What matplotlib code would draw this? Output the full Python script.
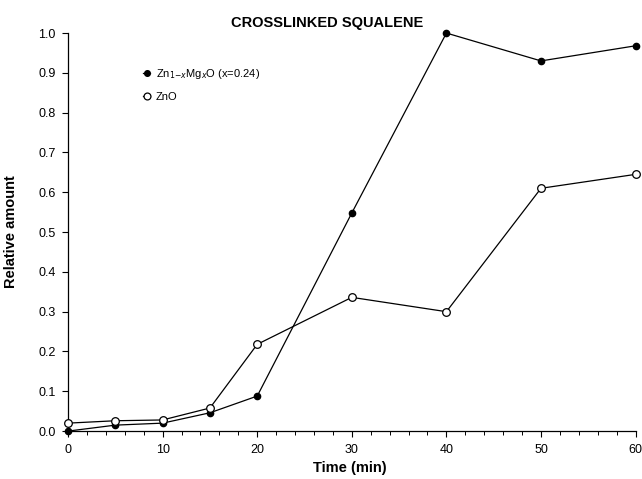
import numpy as np
import matplotlib
matplotlib.use("Agg")
import matplotlib.pyplot as plt

plt.rcParams["font.family"] = ["Liberation Sans", "DejaVu Sans"]

# Tiempo de reacción (min) y cantidad relativa de escualeno entrecruzado
tiempo = [0, 5, 10, 15, 20, 30, 40, 50, 60]
znmgo = [0.0, 0.015, 0.02, 0.046, 0.088, 0.548, 1.0, 0.93, 0.968]
zno = [0.02, 0.026, 0.028, 0.058, 0.218, 0.336, 0.30, 0.61, 0.645]

fig = plt.figure(figsize=(6.42, 4.79), dpi=100)
ax = fig.add_axes([0.106, 0.1, 0.884, 0.831])

ax.plot(tiempo, znmgo, color="black", lw=0.9, marker="o", ms=4.5,
        mfc="black", mec="black", label="Zn$_{1\\mathrm{-}x}$Mg$_x$O (x=0.24)", clip_on=False, zorder=3)
ax.plot(tiempo, zno, color="black", lw=0.9, marker="o", ms=5.5,
        mfc="white", mec="black", mew=0.9, label="ZnO", clip_on=False, zorder=3)

ax.set_xlim(0, 60)
ax.set_ylim(0, 1.0)
ax.set_xticks(np.arange(0, 61, 10))
ax.set_xticks(np.arange(0, 61, 2), minor=True)
ax.set_yticks(np.arange(0, 1.01, 0.1))
ax.set_yticklabels([f"{v:.1f}" for v in np.arange(0, 1.01, 0.1)])

for lado in ["top", "right"]:
    ax.spines[lado].set_visible(False)
ax.spines["left"].set_linewidth(0.9)
ax.spines["bottom"].set_linewidth(0.9)
ax.tick_params(axis="both", which="major", direction="out", length=4, width=0.8,
               labelsize=9)
ax.tick_params(axis="x", which="major", pad=5)
ax.tick_params(axis="y", which="major", pad=5)
ax.tick_params(axis="x", which="minor", direction="out", length=3, width=0.7)

ax.set_xlabel("Time (min)", fontsize=10.5, fontweight="semibold")
ax.set_ylabel("Relative amount", fontsize=10.5, fontweight="semibold")
ax.xaxis.set_label_coords(0.497, -0.076)
ax.yaxis.set_label_coords(-0.088, 0.5)
fig.text(0.51, 0.953, "CROSSLINKED SQUALENE", ha="center", va="center",
         fontsize=10.5, fontweight="bold")

ax.legend(loc="upper left", bbox_to_anchor=(0.115, 0.94), frameon=False,
          fontsize=8, handlelength=0.6, handletextpad=0.5, labelspacing=1.0,
          markerscale=0.9)

fig.savefig("out.png", dpi=100)
